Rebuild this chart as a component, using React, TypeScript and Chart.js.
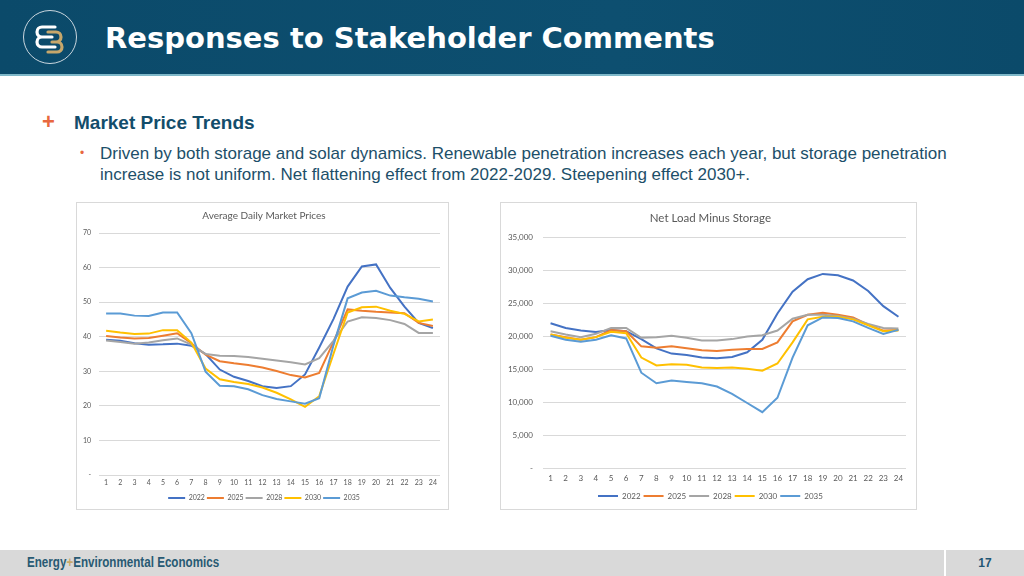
import React, { useEffect, useRef } from "react";
import { Chart, registerables } from "chart.js";

Chart.register(...registerables);

// ---------- data ----------
const hours = ["1","2","3","4","5","6","7","8","9","10","11","12","13","14","15","16","17","18","19","20","21","22","23","24"];
const seriesNames = ["2022", "2025", "2028", "2030", "2035"];
const seriesColors = ["#4472C4", "#ED7D31", "#A5A5A5", "#FFC000", "#5B9BD5"];

// Average Daily Market Prices
const price2022 = [39.1, 38.8, 38.1, 37.7, 37.8, 38.0, 37.4, 35.0, 30.5, 28.4, 27.2, 25.7, 25.2, 25.7, 29.1, 36.9, 45.1, 54.5, 60.3, 60.9, 54.1, 48.7, 44.0, 42.5];
const price2025 = [40.2, 39.8, 39.5, 39.6, 40.3, 41.0, 38.1, 34.8, 32.9, 32.3, 31.8, 31.1, 30.1, 28.9, 28.2, 29.5, 38.5, 47.9, 47.5, 47.2, 47.0, 46.8, 44.0, 43.1];
const price2028 = [38.9, 38.5, 38.0, 38.3, 39.0, 39.5, 37.7, 35.0, 34.5, 34.4, 34.1, 33.6, 33.1, 32.6, 32.0, 33.8, 38.8, 44.4, 45.6, 45.4, 44.8, 43.7, 41.1, 41.1];
const price2030 = [41.7, 41.2, 40.8, 40.9, 41.9, 41.9, 38.3, 30.8, 27.7, 26.9, 26.3, 25.3, 23.8, 21.9, 19.7, 22.8, 35.0, 47.0, 48.5, 48.7, 47.5, 46.6, 44.4, 45.0];
const price2035 = [46.7, 46.7, 46.1, 46.0, 47.0, 47.0, 41.0, 29.9, 25.8, 25.7, 24.8, 23.1, 22.0, 21.3, 20.6, 22.2, 37.5, 51.1, 52.8, 53.3, 51.9, 51.4, 51.0, 50.2];

// Net Load Minus Storage (MW)
const load2022 = [22000, 21300, 20900, 20700, 21000, 20800, 19600, 18200, 17400, 17200, 16800, 16700, 16900, 17600, 19500, 23500, 26800, 28700, 29500, 29300, 28500, 26900, 24600, 23000];
const load2025 = [20300, 19900, 19500, 19900, 21000, 20800, 18500, 18300, 18500, 18200, 17900, 17800, 18000, 18100, 18100, 19100, 22300, 23300, 23600, 23300, 22900, 21800, 20900, 21000];
const load2028 = [20800, 20300, 19900, 20400, 21300, 21300, 19800, 19900, 20100, 19800, 19400, 19400, 19600, 20000, 20200, 20900, 22700, 23300, 23300, 23100, 22700, 21900, 21300, 21200];
const load2030 = [20300, 19800, 19500, 19900, 20700, 20500, 16800, 15600, 15800, 15700, 15300, 15200, 15300, 15100, 14800, 15900, 19100, 22600, 23000, 23000, 22600, 21700, 20800, 20900];
const load2035 = [20100, 19500, 19200, 19500, 20200, 19700, 14500, 12900, 13300, 13100, 12900, 12400, 11300, 9900, 8500, 10700, 16800, 21700, 22900, 22800, 22300, 21300, 20400, 21000];

const priceTicks = [0, 10, 20, 30, 40, 50, 60, 70];
const loadTicks = [0, 5000, 10000, 15000, 20000, 25000, 30000, 35000];

const priceSeries = [price2022, price2025, price2028, price2030, price2035];
const loadSeries = [load2022, load2025, load2028, load2030, load2035];

// ---------- chart ----------
type Geo = {
  yWidth: number; yPad: number; xHeight: number; xPad: number;
  rightGap: number; padRight: number; padBottom: number;
  titleSize: number; titleTop: number; titleBottom: number;
  tickSize: number; legendSize: number; legendBoxW: number; legendPad: number;
};

const FONT = "Lato, 'Open Sans', 'Liberation Sans', sans-serif";
const GRAY = "#595959";

function LineChart(props: { title: string; series: number[][]; ticks: number[]; fmt: (v: number) => string; geo: Geo; w: number; h: number }) {
  const ref = useRef<HTMLCanvasElement | null>(null);
  useEffect(() => {
    if (!ref.current) return;
    const g = props.geo;
    const n = props.series.length;
    const chart = new Chart(ref.current, {
      type: "line",
      data: {
        labels: hours,
        datasets: props.series.map((d, i) => ({
          label: seriesNames[i],
          data: d,
          borderColor: seriesColors[i],
          backgroundColor: seriesColors[i],
          borderWidth: 2,
          pointRadius: 0,
          tension: 0,
          fill: false,
          order: n - i,
          yAxisID: "y",
        })),
      },
      options: {
        animation: false,
        responsive: true,
        maintainAspectRatio: false,
        layout: { padding: { left: 0, right: g.padRight, top: 0, bottom: g.padBottom } },
        plugins: {
          tooltip: { enabled: false },
          title: {
            display: true,
            text: props.title,
            color: GRAY,
            font: { family: FONT, size: g.titleSize, weight: "normal" },
            padding: { top: g.titleTop, bottom: g.titleBottom },
          },
          legend: {
            display: true,
            position: "bottom",
            labels: {
              color: GRAY,
              font: { family: FONT, size: g.legendSize },
              boxWidth: g.legendBoxW,
              boxHeight: 2,
              padding: g.legendPad,
              sort: (a: any, b: any) => a.datasetIndex - b.datasetIndex,
              generateLabels: (c: any) =>
                Chart.defaults.plugins.legend.labels.generateLabels(c).map((it: any) => ({ ...it, lineWidth: 0 })),
            },
          },
        },
        scales: {
          x: {
            offset: true,
            grid: { display: false, drawTicks: false },
            border: { display: false },
            ticks: { color: GRAY, font: { family: FONT, size: g.tickSize }, padding: g.xPad, maxRotation: 0, autoSkip: false },
            afterFit: (s: any) => { s.height = g.xHeight; },
          },
          y: {
            min: props.ticks[0],
            max: props.ticks[props.ticks.length - 1],
            grid: { color: "#d9d9d9", lineWidth: 1, drawTicks: false },
            border: { display: false },
            afterBuildTicks: (s: any) => { s.ticks = props.ticks.map((v) => ({ value: v })); },
            ticks: {
              color: GRAY,
              font: { family: FONT, size: g.tickSize },
              padding: g.yPad,
              callback: (v: any) => props.fmt(Number(v)),
            },
            afterFit: (s: any) => { s.width = g.yWidth; },
          },
          gap: {
            type: "linear",
            position: "right",
            display: true,
            grid: { display: false, drawTicks: false },
            border: { display: false },
            ticks: { display: false },
            afterFit: (s: any) => { s.width = g.rightGap; },
          },
        },
      },
    });
    return () => chart.destroy();
  }, []);
  return (
    <div style={{ position: "absolute", left: 0, top: 0, width: props.w, height: props.h }}>
      <canvas ref={ref} />
    </div>
  );
}

const leftGeo: Geo = {
  yWidth: 22, yPad: 8, xHeight: 17.5, xPad: 4, rightGap: 11, padRight: 2, padBottom: 7.5,
  titleSize: 10, titleTop: 7, titleBottom: 11,
  tickSize: 7, legendSize: 7, legendBoxW: 17, legendPad: 2,
};
const rightGeo: Geo = {
  yWidth: 42, yPad: 10, xHeight: 20.8, xPad: 5.5, rightGap: 13.8, padRight: 2.2, padBottom: 9,
  titleSize: 11.5, titleTop: 8.4, titleBottom: 12.5,
  tickSize: 8, legendSize: 8, legendBoxW: 20, legendPad: 3,
};

function Logo() {
  return (
    <svg width="56" height="56" viewBox="0 0 56 56" style={{ position: "absolute", left: 22, top: 9 }}>
      <circle cx="28" cy="28" r="26.5" fill="none" stroke="#c9d6de" strokeWidth="1" />
      <path d="M33 18 h-13 a5 5 0 0 0 0 10 h10 M30 28 h-10 a5 5 0 0 0 0 10 h13" fill="none" stroke="#ffffff" strokeWidth="3.2" strokeLinecap="round" />
      <path d="M26 23 h8 a5 5 0 0 1 0 10 h-4 M30 33 h5 a5 5 0 0 1 0 10 h-9" fill="none" stroke="#c7a76b" strokeWidth="3.2" strokeLinecap="round" />
    </svg>
  );
}

export default function App() {
  const sans = "'Liberation Sans', Arial, Helvetica, sans-serif";
  return (
    <div style={{ position: "absolute", left: 0, top: 0, width: 1024, height: 576, background: "#ffffff", overflow: "hidden", fontFamily: sans }}>
      {/* header */}
      <div style={{ position: "absolute", left: 0, top: 0, width: 1024, height: 74, background: "linear-gradient(90deg, #0b4a6a 0%, #0d4f70 60%, #0b4a6a 100%)" }} />
      <div style={{ position: "absolute", left: 0, top: 74, width: 1024, height: 2, background: "#7fb8c9" }} />
      <Logo />
      <div style={{ position: "absolute", left: 105, top: 19, fontSize: 29, fontWeight: "bold", fontFamily: "'DejaVu Sans', Verdana, sans-serif", color: "#ffffff", whiteSpace: "nowrap", lineHeight: "38px" }}>
        Responses to Stakeholder Comments
      </div>

      {/* body text */}
      <div style={{ position: "absolute", left: 42, top: 110, fontSize: 22, color: "#e8683f", lineHeight: "24px", fontWeight: "bold" }}>+</div>
      <div style={{ position: "absolute", left: 74, top: 112, fontSize: 19, fontWeight: "bold", color: "#134d6b", lineHeight: "22px", whiteSpace: "nowrap" }}>
        Market Price Trends
      </div>
      <div style={{ position: "absolute", left: 80, top: 143, fontSize: 12, color: "#e8683f", lineHeight: "21px" }}>•</div>
      <div style={{ position: "absolute", left: 100, top: 143, fontSize: 17, color: "#1d4f69", lineHeight: "21px", whiteSpace: "nowrap" }}>
        <div>Driven by both storage and solar dynamics. Renewable penetration increases each year, but storage penetration</div>
        <div>increase is not uniform. Net flattening effect from 2022-2029. Steepening effect 2030+.</div>
      </div>

      {/* chart boxes */}
      <div style={{ position: "absolute", left: 76, top: 202, width: 371, height: 306, border: "1px solid #d9d9d9" }}>
        <LineChart title="Average Daily Market Prices" series={priceSeries} ticks={priceTicks}
          fmt={(v) => (v === 0 ? "-" : String(v))} geo={leftGeo} w={376} h={316} />
      </div>
      <div style={{ position: "absolute", left: 500, top: 202, width: 415, height: 306, border: "1px solid #d9d9d9" }}>
        <LineChart title="Net Load Minus Storage" series={loadSeries} ticks={loadTicks}
          fmt={(v) => (v === 0 ? "-" : v.toLocaleString("en-US"))} geo={rightGeo} w={421} h={316} />
      </div>

      {/* footer */}
      <div style={{ position: "absolute", left: 0, top: 550, width: 944, height: 26, background: "#d9d9d9" }} />
      <div style={{ position: "absolute", left: 946, top: 550, width: 78, height: 26, background: "#d9d9d9" }} />
      <div style={{ position: "absolute", left: 27, top: 553, fontSize: 14, fontWeight: "bold", color: "#285a73", whiteSpace: "nowrap", transform: "scaleX(0.83)", transformOrigin: "left center", lineHeight: "18px" }}>
        Energy<span style={{ color: "#c9a96a" }}>+</span>Environmental Economics
      </div>
      <div style={{ position: "absolute", left: 946, top: 554, width: 78, textAlign: "center", fontSize: 12, fontWeight: "bold", color: "#1f5673", lineHeight: "18px" }}>
        17
      </div>
    </div>
  );
}
